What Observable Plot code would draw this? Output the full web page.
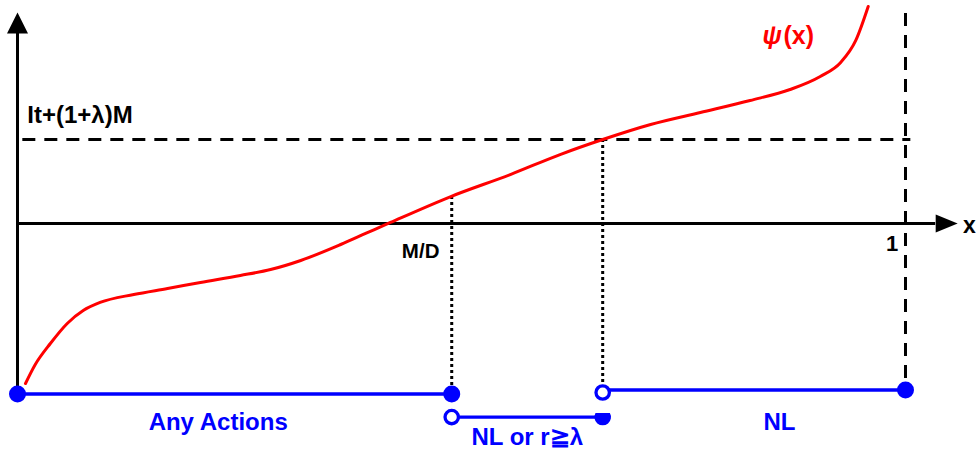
<!DOCTYPE html>
<html>
<head>
<meta charset="utf-8">
<script src="https://cdn.jsdelivr.net/npm/d3@7"></script>
<script src="https://cdn.jsdelivr.net/npm/@observablehq/plot@0.6"></script>
<style>
  html, body { margin: 0; padding: 0; background: #fff; }
  #chart svg { display: block; }
</style>
</head>
<body>
<div id="chart"></div>
<script>
// ---- data (x: share, 1 = full; y: 0 = x-axis, 1 = It+(1+λ)M level) ----
const curveX = [0.009,0.020,0.037,0.056,0.074,0.093,0.131,0.169,0.206,0.251,0.285,0.319,0.364,0.392,0.420,0.488,0.555,0.611,0.659,0.713,0.769,0.825,0.870,0.904,0.927,0.944,0.958];
const curveY = [-1.905,-1.679,-1.429,-1.190,-1.036,-0.940,-0.845,-0.774,-0.702,-0.619,-0.548,-0.440,-0.250,-0.119,0.012,0.321,0.583,0.821,1.000,1.179,1.321,1.464,1.595,1.750,1.917,2.179,2.583];

const thresholdY = 1;          // It+(1+λ)M
const mdX = 0.489;             // M/D
const crossX = 0.659;          // ψ(x) = It+(1+λ)M
const oneX = 1;                // x = 1
const axisTopY = 2.262;
const axisBottomY = -2.030;
const axisRightX = 1.034;

const segNames = ["Any Actions", "NL or r≧λ", "NL"];
const segX1 = [0, mdX, crossX];
const segX2 = [mdX, crossX, oneX];
const segY  = [-2.030, -2.304, -1.982];

const filledX = [0, mdX, oneX];
const filledY = [-2.030, -2.030, -1.982];
const openX = [mdX, crossX];
const openY = [-2.304, -2.012];
const halfX = [crossX];
const halfY = [-2.304];

const labelText = ["It+(1+λ)M", "x", "1", "M/D"];
const labelX = [0.011, 1.072, 0.985, 0.454];
const labelY = [1.286, -0.024, -0.238, -0.333];
const labelAnchor = ["start", "middle", "middle", "middle"];
const labelSize = [24, 23, 22, 20.5];

const segLabelX = [0.226, 0.574, 0.858];
const segLabelY = [-2.363, -2.542, -2.363];

const psiText = ["ψ", "(x)"];
const psiX = [0.839, 0.8626];
const psiY = [2.238, 2.238];
const psiStyle = ["italic", "normal"];

// ---- tables ----
const curve = curveX.map((x, i) => ({x, y: curveY[i]}));
const segs = segNames.map((name, i) => ({name, x1: segX1[i], x2: segX2[i], y: segY[i], lx: segLabelX[i], ly: segLabelY[i]}));
const filled = filledX.map((x, i) => ({x, y: filledY[i]}));
const open = openX.map((x, i) => ({x, y: openY[i]}));
const half = halfX.map((x, i) => ({x, y: halfY[i]}));
const labels = labelText.map((t, i) => ({t, x: labelX[i], y: labelY[i], a: labelAnchor[i], s: labelSize[i]}));
const psi = psiText.map((t, i) => ({t, x: psiX[i], y: psiY[i], st: psiStyle[i]}));

const arrowUp = {draw(ctx) { ctx.moveTo(0, -21); ctx.lineTo(10.5, 0); ctx.lineTo(-10.5, 0); ctx.closePath(); }};
const arrowRight = {draw(ctx) { ctx.moveTo(22, 0); ctx.lineTo(0, -9); ctx.lineTo(0, 9); ctx.closePath(); }};
const halfDisk = {draw(ctx) { const r = 8.3; ctx.moveTo(r * Math.cos(-Math.PI/6), -r/2); ctx.arc(0, 0, r, -Math.PI/6, 7*Math.PI/6); ctx.closePath(); }};

const FONT = "Liberation Sans, Arial, Helvetica, sans-serif";
const BLUE = "#0000ff", RED = "#ff0000";

const marks = [
  // axes
  Plot.ruleX([0], {y1: axisBottomY, y2: axisTopY, stroke: "black", strokeWidth: 3}),
  Plot.ruleY([0], {x1: 0, x2: axisRightX, stroke: "black", strokeWidth: 3}),
  Plot.dot([{x: 0, y: axisTopY}], {x: "x", y: "y", symbol: arrowUp, fill: "black", stroke: "none"}),
  Plot.dot([{x: axisRightX, y: 0}], {x: "x", y: "y", symbol: arrowRight, fill: "black", stroke: "none"}),
  // dashed guides
  Plot.ruleY([thresholdY], {x1: 0.006, x2: 1.006, stroke: "black", strokeWidth: 3, strokeDasharray: "13,9"}),
  Plot.ruleX([oneX], {y1: 2.5, y2: -1.9, stroke: "black", strokeWidth: 3, strokeDasharray: "13,9"}),
  // dotted drops
  Plot.ruleX([mdX], {y1: 0.321, y2: -1.94, stroke: "black", strokeWidth: 3, strokeDasharray: "3,3"}),
  Plot.ruleX([crossX], {y1: thresholdY, y2: -1.92, stroke: "black", strokeWidth: 3, strokeDasharray: "3,3"}),
  // curve
  Plot.line(curve, {x: "x", y: "y", stroke: RED, strokeWidth: 3, curve: "monotone-x"}),
  // blue segments
  Plot.link(segs, {x1: "x1", x2: "x2", y1: "y", y2: "y", stroke: BLUE, strokeWidth: 3.3}),
  Plot.dot(filled, {x: "x", y: "y", r: 8.5, fill: BLUE, stroke: "none"}),
  Plot.dot(open, {x: "x", y: "y", r: 6.7, fill: "white", stroke: BLUE, strokeWidth: 3.3}),
  Plot.dot(half, {x: "x", y: "y", symbol: halfDisk, fill: BLUE, stroke: "none"}),
  // text
  Plot.text(segs, {x: "lx", y: "ly", text: "name", fill: BLUE, fontSize: 24, fontWeight: "bold", fontFamily: FONT})
];
for (const p of psi) {
  marks.push(Plot.text([p], {x: "x", y: "y", text: "t", fill: RED, fontSize: 25, fontWeight: "bold", fontStyle: p.st, fontFamily: FONT, textAnchor: "start"}));
}
for (const l of labels) {
  marks.push(Plot.text([l], {x: "x", y: "y", text: "t", fill: "black", fontSize: l.s, fontWeight: "bold", fontFamily: FONT, textAnchor: l.a}));
}

const chart = Plot.plot({
  width: 978,
  height: 454,
  margin: 0,
  style: {background: "white", overflow: "visible"},
  x: {domain: [0, 1], range: [17, 905], axis: null},
  y: {domain: [0, 1], range: [223, 139], axis: null},
  marks
});
document.getElementById("chart").appendChild(chart);
</script>
</body>
</html>
